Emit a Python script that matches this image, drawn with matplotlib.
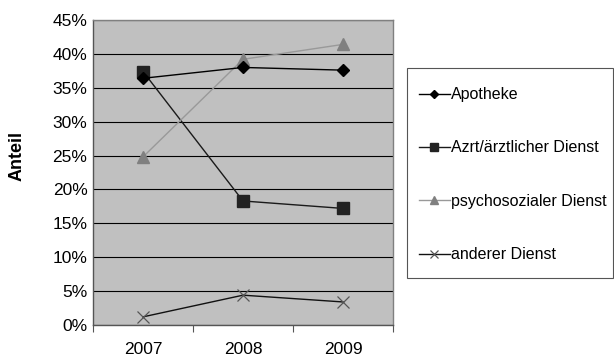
import matplotlib
matplotlib.use("Agg")
import matplotlib.pyplot as plt
from matplotlib.patches import Rectangle
from matplotlib.ticker import PercentFormatter

plt.rcParams['font.family'] = ['Liberation Sans', 'DejaVu Sans']

jahre = ['2007', '2008', '2009']
apotheke = [36.4, 38.0, 37.6]
arzt = [37.4, 18.3, 17.2]
psychosozial = [24.8, 39.2, 41.4]
anderer = [1.2, 4.4, 3.4]

W, H = 614, 359
fig = plt.figure(figsize=(W / 100, H / 100), dpi=100)
ax = fig.add_axes([93 / W, 1 - 325 / H, 300 / W, 305 / H])
ax.set_facecolor('#c0c0c0')

x = range(len(jahre))
ax.plot(x, apotheke, color='black', lw=1, marker='D', ms=6, mfc='black', mec='black',
        label='Apotheke', zorder=4)
ax.plot(x, arzt, color='#1a1a1a', lw=1, marker='s', ms=8, mfc='#222222', mec='#222222',
        label='Azrt/ärztlicher Dienst', zorder=3)
ax.plot(x, psychosozial, color='#999999', lw=1, marker='^', ms=8, mfc='#808080', mec='#808080',
        label='psychosozialer Dienst', zorder=3)
ax.plot(x, anderer, color='#111111', lw=1, marker='x', ms=8, mec='#555555', mew=0.9,
        label='anderer Dienst', zorder=3)

ax.set_xlim(-0.5, 2.5)
ax.set_ylim(0, 45)
ax.set_yticks(range(0, 50, 5))
ax.yaxis.set_major_formatter(PercentFormatter(decimals=0))
ax.set_xticks([-0.5, 0.5, 1.5, 2.5])
ax.set_xticklabels([])
ax.set_xticks(list(x), minor=True)
ax.set_xticklabels(jahre, minor=True)
ax.tick_params(axis='x', which='major', direction='out', length=5, color='#555555')
ax.tick_params(axis='x', which='minor', length=0, pad=12, labelsize=12.5)
ax.tick_params(axis='y', length=0, pad=4, labelsize=12.5)
ax.grid(axis='y', color='black', lw=0.8)
ax.set_axisbelow(True)
for name, sp in ax.spines.items():
    sp.set_color('#808080')
    sp.set_linewidth(1)
ax.spines['left'].set_color('#555555')
ax.spines['bottom'].set_color('#555555')

fig.text(17 / W, 1 - 156 / H, 'Anteil', rotation=90, fontsize=13, fontweight='bold',
         ha='center', va='center')

# legend box drawn separately so the entries can sit with a tighter left margin
fig.patches.append(Rectangle((407 / W, 1 - 278 / H), 206 / W, 210 / H,
                             transform=fig.transFigure, facecolor='white',
                             edgecolor='#555555', lw=0.8, zorder=0))
leg = fig.legend(loc='upper left', bbox_to_anchor=(400 / W, 1 - 68 / H),
                 frameon=False, fontsize=11.5, handlelength=1.9,
                 handletextpad=0.1, labelspacing=2.4, borderpad=1.2,
                 borderaxespad=0, markerscale=0.75)

fig.savefig('out.png', dpi=100)
